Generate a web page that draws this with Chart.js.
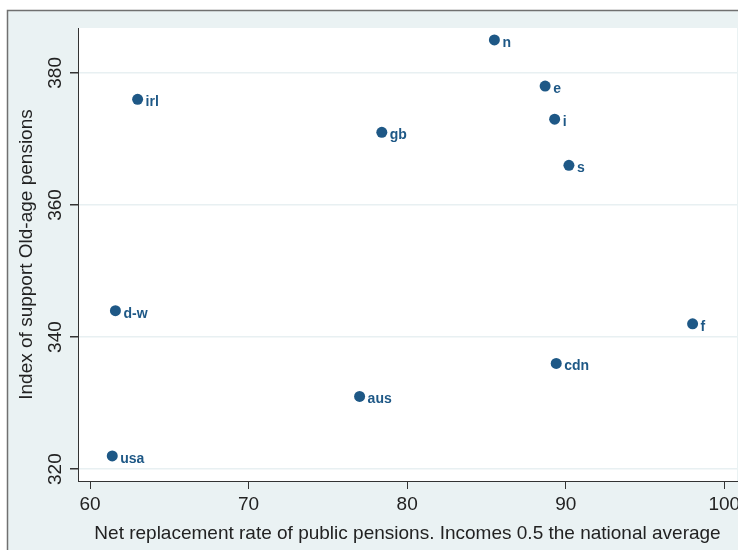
<!DOCTYPE html>
<html>
<head>
<meta charset="utf-8">
<script src="https://cdn.jsdelivr.net/npm/chart.js@4.4.0/dist/chart.umd.min.js"></script>
<style>
  html, body { margin: 0; padding: 0; background: #fff; overflow: hidden; }
  canvas { display: block; }
</style>
</head>
<body>
<canvas id="scatter" width="738" height="550"></canvas>
<script>
// countries, net replacement rate (x) and support index (y)
var countries = ['n', 'e', 'i', 's', 'gb', 'irl', 'd-w', 'f', 'cdn', 'aus', 'usa'];
var replacementRate = [85.5, 88.7, 89.3, 90.2, 78.4, 63.0, 61.6, 98.0, 89.4, 77.0, 61.4];
var supportIndex = [385, 378, 373, 366, 371, 376, 344, 342, 336, 331, 322];
var xTicks = [60, 70, 80, 90, 100];
var yTicks = [320, 340, 360, 380];

var navy = '#1e5886';
var fontFam = '"Liberation Sans", Arial, sans-serif';

var points = replacementRate.map(function (x, i) {
    return { x: x, y: supportIndex[i] };
});

var frame = {
    id: 'frame',
    beforeDraw: function (chart) {
        var ctx = chart.ctx, a = chart.chartArea;
        ctx.save();
        ctx.fillStyle = '#fff';
        ctx.fillRect(0, 0, chart.width, chart.height);
        ctx.fillStyle = '#eaf2f3';
        ctx.fillRect(7, 10, chart.width, chart.height);
        ctx.strokeStyle = '#707070';
        ctx.lineWidth = 1.5;
        ctx.strokeRect(7.5, 10.5, chart.width + 10, chart.height + 10);
        ctx.fillStyle = '#fff';
        ctx.fillRect(a.left, a.top, a.right - a.left, a.bottom - a.top);
        ctx.restore();
    },
    afterDraw: function (chart) {
        // vertical tick labels on the y axis
        var ctx = chart.ctx, ys = chart.scales.y;
        ctx.save();
        ctx.fillStyle = '#222';
        ctx.font = '19px ' + fontFam;
        ctx.textAlign = 'center';
        ctx.textBaseline = 'alphabetic';
        yTicks.forEach(function (v) {
            ctx.save();
            ctx.translate(61, ys.getPixelForValue(v));
            ctx.rotate(-Math.PI / 2);
            ctx.fillText(String(v), 0, 0);
            ctx.restore();
        });
        ctx.restore();
    }
};

var pointLabels = {
    id: 'pointLabels',
    afterDatasetsDraw: function (chart) {
        var ctx = chart.ctx;
        var meta = chart.getDatasetMeta(0);
        ctx.save();
        ctx.fillStyle = navy;
        ctx.font = 'bold 14px ' + fontFam;
        ctx.textAlign = 'left';
        ctx.textBaseline = 'alphabetic';
        meta.data.forEach(function (pt, i) {
            ctx.fillText(countries[i], pt.x + 8, pt.y + 7);
        });
        ctx.restore();
    }
};

new Chart(document.getElementById('scatter'), {
    type: 'scatter',
    data: {
        datasets: [{
            data: points,
            backgroundColor: navy,
            borderColor: navy,
            borderWidth: 0,
            pointRadius: 5.5,
            pointHoverRadius: 5.5
        }]
    },
    options: {
        responsive: false,
        animation: false,
        events: [],
        layout: {
            autoPadding: false,
            padding: { left: 0, top: 28, right: 1, bottom: 0 }
        },
        plugins: {
            legend: { display: false },
            tooltip: { enabled: false }
        },
        scales: {
            x: {
                type: 'linear',
                min: 59.24,
                max: 100.8,
                afterBuildTicks: function (scale) {
                    scale.ticks = xTicks.map(function (v) { return { value: v }; });
                },
                afterFit: function (scale) {
                    scale.height = 69;
                    // let the "100" label run past the plot edge
                    scale.paddingLeft = 0;
                    scale.paddingRight = 0;
                },
                grid: {
                    drawOnChartArea: false,
                    drawTicks: true,
                    tickLength: 8,
                    tickColor: '#333'
                },
                border: { color: '#333', width: 1 },
                ticks: {
                    color: '#222',
                    font: { family: fontFam, size: 19 },
                    padding: 4,
                    maxRotation: 0,
                    autoSkip: false
                },
                title: {
                    display: true,
                    text: 'Net replacement rate of public pensions. Incomes 0.5 the national average',
                    color: '#222',
                    font: { family: fontFam, size: 19 },
                    padding: { top: 0, bottom: 5 }
                }
            },
            y: {
                type: 'linear',
                min: 318.2,
                max: 386.8,
                afterBuildTicks: function (scale) {
                    scale.ticks = yTicks.map(function (v) { return { value: v }; });
                },
                afterFit: function (scale) {
                    scale.width = 78;
                    scale.paddingTop = 0;
                    scale.paddingBottom = 0;
                },
                grid: {
                    color: '#e8f0f2',
                    lineWidth: 1.5,
                    drawTicks: true,
                    tickLength: 8,
                    tickColor: '#333'
                },
                border: { color: '#333', width: 1 },
                ticks: { display: false },
                title: {
                    display: true,
                    text: 'Index of support Old-age pensions',
                    color: '#222',
                    font: { family: fontFam, size: 19 },
                    padding: { top: 15, bottom: 0 }
                }
            }
        }
    },
    plugins: [frame, pointLabels]
});
</script>
</body>
</html>
